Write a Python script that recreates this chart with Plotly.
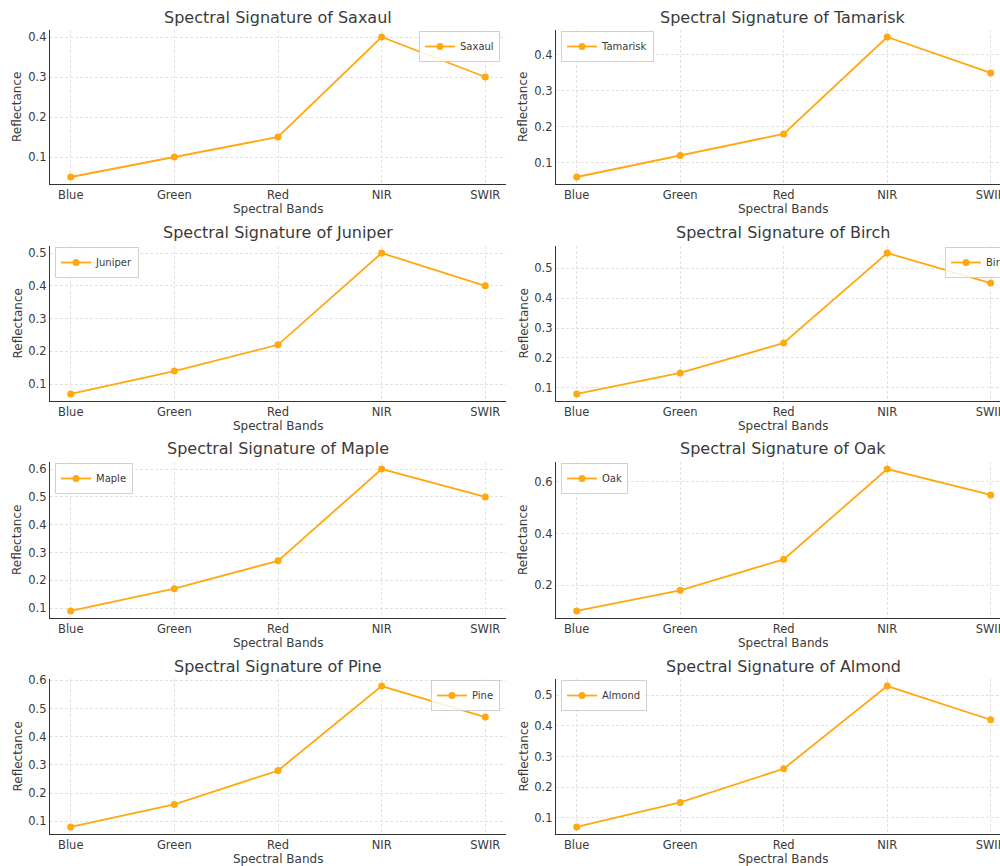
import plotly.graph_objects as go

bands = ["Blue", "Green", "Red", "NIR", "SWIR"]
species = ["Saxaul", "Tamarisk", "Juniper", "Birch", "Maple", "Oak", "Pine", "Almond"]
saxaul = [0.05, 0.10, 0.15, 0.40, 0.30]
tamarisk = [0.06, 0.12, 0.18, 0.45, 0.35]
juniper = [0.07, 0.14, 0.22, 0.50, 0.40]
birch = [0.08, 0.15, 0.25, 0.55, 0.45]
maple = [0.09, 0.17, 0.27, 0.60, 0.50]
oak = [0.10, 0.18, 0.30, 0.65, 0.55]
pine = [0.08, 0.16, 0.28, 0.58, 0.47]
almond = [0.07, 0.15, 0.26, 0.53, 0.42]
values = [saxaul, tamarisk, juniper, birch, maple, oak, pine, almond]
legend_side = ["right", "left", "left", "right", "left", "left", "right", "left"]
ytick_step = [0.1, 0.1, 0.1, 0.1, 0.1, 0.2, 0.1, 0.1]

W, H = 1000, 866
col_px = [(50, 506, 4.2), (556, 1000, 4.09)]
row_px = [(30, 184), (246, 401), (462, 618), (679, 834)]

TXT = "#3a3a3a"
ORANGE = "#FFA80F"
FONT = "DejaVu Sans"

fig = go.Figure()
layout = dict(
    width=W, height=H, margin=dict(l=0, r=0, t=0, b=0, autoexpand=False),
    paper_bgcolor="white", plot_bgcolor="white",
    font=dict(family=FONT, color=TXT), showlegend=True,
)
annotations = []

for i, (name, vals) in enumerate(zip(species, values)):
    r, c = divmod(i, 2)
    x0, x1, xmax = col_px[c]
    top, bot = row_px[r]
    k = "" if i == 0 else str(i + 1)
    lg = "legend" + k
    fig.add_trace(go.Scatter(
        x=list(range(len(bands))), y=vals, mode="lines+markers", name=name,
        line=dict(color=ORANGE, width=1.8), marker=dict(color=ORANGE, size=7),
        xaxis="x" + k, yaxis="y" + k, legend=lg,
    ))
    vmin, vmax = min(vals), max(vals)
    pad = (vmax - vmin) * 0.05
    axcommon = dict(showline=True, linecolor="#333333", linewidth=1.2, mirror=False,
                    showgrid=True, gridcolor="#e2e2e2", gridwidth=0.8, griddash="3px,2px",
                    zeroline=False, ticks="", ticklabeloverflow="allow",
                    tickfont=dict(size=11.5, color=TXT, family=FONT))
    layout["xaxis" + k] = dict(
        domain=[x0 / W, x1 / W], anchor="y" + k, range=[-0.2, xmax],
        tickmode="array", tickvals=list(range(len(bands))), ticktext=bands, **axcommon)
    layout["yaxis" + k] = dict(
        domain=[1 - bot / H, 1 - top / H], anchor="x" + k, range=[vmin - pad, vmax + pad],
        tick0=0, dtick=ytick_step[i], tickformat=".1f", **axcommon)
    # legend
    ly = 1 - (top + 1) / H
    if legend_side[i] == "right":
        layout[lg] = dict(x=(x1 - 6) / W, xanchor="right", y=ly, yanchor="top")
    else:
        layout[lg] = dict(x=(x0 + 5) / W, xanchor="left", y=ly, yanchor="top")
    if i == 3:
        layout[lg] = dict(x=(x1 - 55) / W, xanchor="left", y=ly, yanchor="top")
    layout[lg].update(bgcolor="rgba(255,255,255,0.85)", bordercolor="#d0d0d0", borderwidth=1,
                      font=dict(size=10, color=TXT, family=FONT), itemwidth=30,
                      xref="paper", yref="paper", tracegroupgap=0)
    # title
    xc = (506 + 50) / 2 if c == 0 else (556 + 1010) / 2
    annotations.append(dict(text=f"Spectral Signature of {name}", x=xc / W, y=1 - (top - 13) / H,
                            xref="paper", yref="paper", showarrow=False, xanchor="center", yanchor="middle",
                            font=dict(size=16, color=TXT, family=FONT)))
    annotations.append(dict(text="Spectral Bands", x=xc / W, y=1 - (bot + 25) / H,
                            xref="paper", yref="paper", showarrow=False, xanchor="center", yanchor="middle",
                            font=dict(size=12, color=TXT, family=FONT)))
    annotations.append(dict(text="Reflectance", x=(x0 - 33) / W, y=1 - ((top + bot) / 2) / H,
                            xref="paper", yref="paper", showarrow=False, xanchor="center", yanchor="middle",
                            textangle=-90, font=dict(size=12, color=TXT, family=FONT)))

layout["annotations"] = annotations
fig.update_layout(**layout)
fig.write_html("out.html")
